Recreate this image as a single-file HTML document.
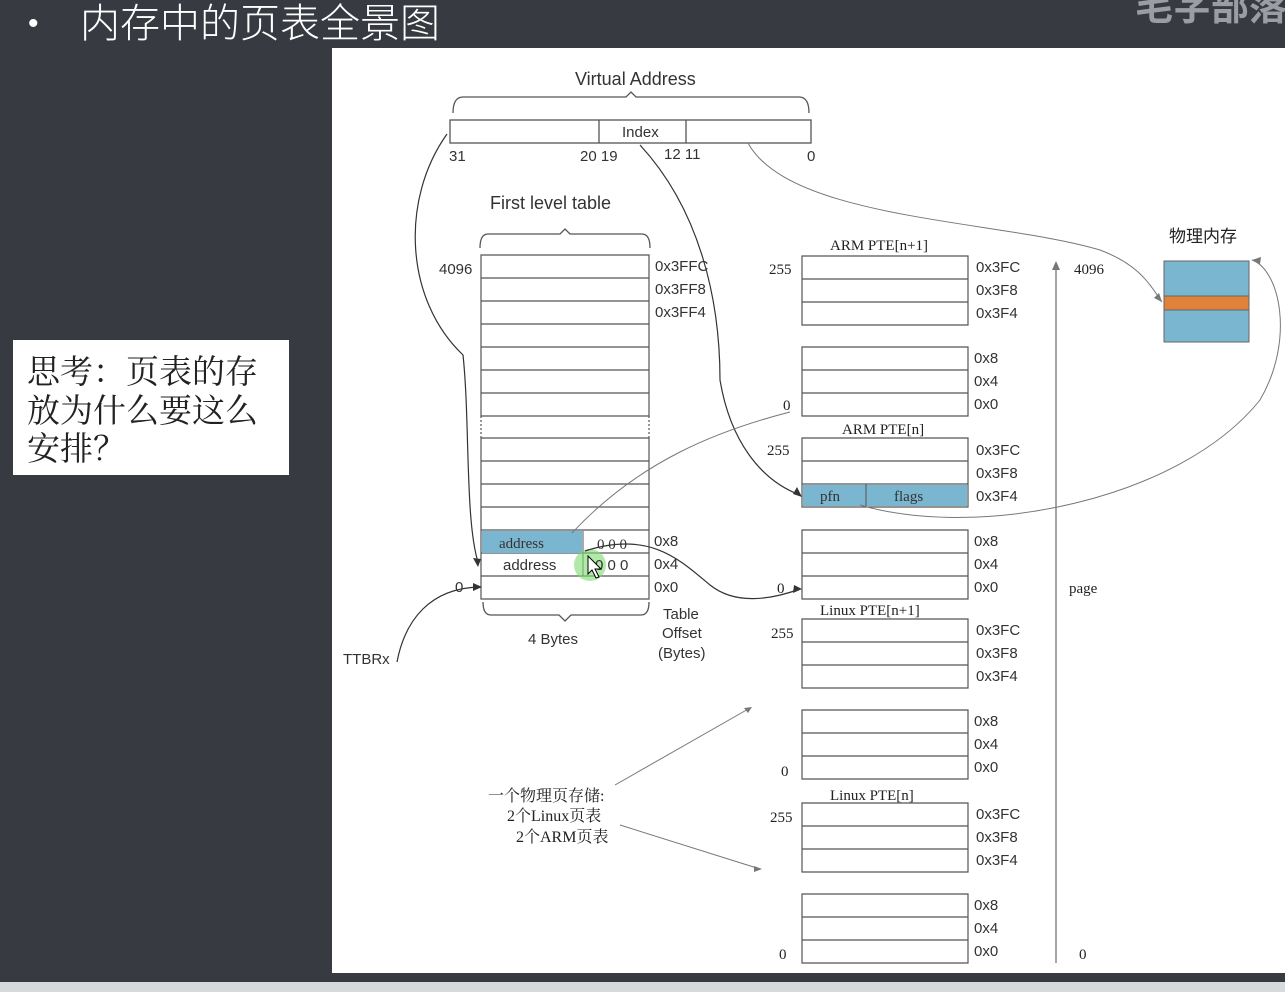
<!DOCTYPE html>
<html><head><meta charset="utf-8"><style>
html,body{margin:0;padding:0;width:1285px;height:992px;overflow:hidden;background:#373a41}
svg{display:block}
</style></head><body>
<svg width="1285" height="992" viewBox="0 0 1285 992" xmlns="http://www.w3.org/2000/svg" font-family="Liberation Sans, Noto Sans CJK SC, sans-serif">
<rect x="0" y="0" width="1285" height="992" fill="#373a41"/>
<rect x="0" y="982" width="1285" height="10" fill="#d8d9dc"/>
<rect x="332" y="48" width="953" height="925" fill="#ffffff"/>
<text x="28" y="33" font-size="30" fill="#fff">•</text>
<text x="80" y="37" font-size="40" fill="#fff" font-family="Noto Sans CJK SC, sans-serif" font-weight="300">内存中的页表全景图</text>
<text x="1135" y="20" font-size="38" font-weight="bold" fill="#9a9da3" font-family="Noto Sans CJK SC, sans-serif">毛字部落</text>
<rect x="13" y="340" width="276" height="135" fill="#fff"/>
<text font-size="33" fill="#222" font-family="Noto Serif CJK SC, serif"><tspan x="27" y="383">思考：页表的存</tspan><tspan x="27" y="422">放为什么要这么</tspan><tspan x="27" y="460">安排？</tspan></text>

<g stroke="#555" fill="none" stroke-width="1.3">
<path d="M453 113 q0 -16 10 -16 h163 l5 -5 l5 5 h163 q10 0 10 16"/>
<rect x="450" y="120" width="361" height="23"/>
<line x1="599" y1="120" x2="599" y2="143"/><line x1="686" y1="120" x2="686" y2="143"/>
<path d="M480 248 q0 -14 8 -14 h72 l5 -5 l5 5 h72 q8 0 8 14"/>
<path d="M483 602 q0 13 8 13 h68 l6 6 l6 -6 h70 q8 0 8 -13"/>
</g>
<g font-size="18" fill="#333">
<text x="575" y="85">Virtual Address</text>
<text x="622" y="137" font-size="15">Index</text>
<text x="449" y="161" font-size="15">31</text><text x="580" y="161" font-size="15">20 19</text>
<text x="664" y="159" font-size="15">12 11</text><text x="807" y="161" font-size="15">0</text>
<text x="490" y="209">First level table</text>
</g>

<g stroke="#555" fill="none" stroke-width="1.2">
<path d="M481 255h168v161h-168zM481 278h168M481 301h168M481 324h168M481 347h168M481 370h168M481 393h168"/>
<path d="M481 416v22M649 416v22" stroke-dasharray="2 2"/>
<path d="M481 438h168v161h-168zM481 461h168M481 484h168M481 507h168M481 530h168M481 553h168M481 576h168"/>
</g>
<rect x="482" y="531" width="100" height="22" fill="#7bb6d0"/>
<line x1="583" y1="531" x2="583" y2="576" stroke="#555"/>
<circle cx="590" cy="565" r="16" fill="#7ddc6e" opacity="0.6"/>
<g font-size="15" fill="#333">
<text x="499" y="548" font-family="Liberation Serif, serif">address</text>
<text x="597" y="549" font-family="Liberation Serif, serif">0 0 0</text>
<text x="503" y="570">address</text><text x="595" y="570">0 0 0</text>
<text x="439" y="274">4096</text>
<text x="655" y="271">0x3FFC</text><text x="655" y="294">0x3FF8</text><text x="655" y="317">0x3FF4</text>
<text x="654" y="546">0x8</text><text x="654" y="569">0x4</text><text x="654" y="592">0x0</text>
<text x="455" y="592">0</text>
<text x="528" y="644">4 Bytes</text>
<text x="663" y="619">Table</text><text x="662" y="638">Offset</text><text x="658" y="658">(Bytes)</text>
<text x="343" y="664">TTBRx</text>
</g>

<g stroke="#555" fill="none" stroke-width="1.2">
<path d="M802 256h166v69h-166zM802 279h166M802 302h166"/>
<path d="M802 347h166v69h-166zM802 370h166M802 393h166"/>
<path d="M802 438h166v69h-166zM802 461h166M802 484h166"/>
<path d="M802 530h166v69h-166zM802 553h166M802 576h166"/>
<path d="M802 619h166v69h-166zM802 642h166M802 665h166"/>
<path d="M802 710h166v69h-166zM802 733h166M802 756h166"/>
<path d="M802 803h166v69h-166zM802 826h166M802 849h166"/>
<path d="M802 894h166v69h-166zM802 917h166M802 940h166"/>
</g>
<rect x="803" y="485" width="164" height="21" fill="#7bb6d0"/>
<line x1="866" y1="484" x2="866" y2="507" stroke="#555"/>
<g font-size="15" fill="#333">
<text x="820" y="501" font-family="Liberation Serif, serif">pfn</text>
<text x="894" y="501" font-family="Liberation Serif, serif">flags</text>
</g>
<g font-size="15" fill="#222" font-family="Liberation Serif, Noto Serif CJK SC, serif">
<text x="830" y="250">ARM PTE[n+1]</text><text x="842" y="434">ARM PTE[n]</text>
<text x="820" y="615">Linux PTE[n+1]</text><text x="830" y="800">Linux PTE[n]</text>
<text x="769" y="274">255</text><text x="783" y="410">0</text>
<text x="767" y="455">255</text><text x="777" y="593">0</text>
<text x="771" y="638">255</text><text x="781" y="776">0</text>
<text x="770" y="822">255</text><text x="779" y="959">0</text>
<text x="1074" y="274">4096</text><text x="1069" y="593">page</text><text x="1079" y="959">0</text>
</g>
<g font-size="15" fill="#333">
<text x="976" y="272">0x3FC</text><text x="976" y="295">0x3F8</text><text x="976" y="318">0x3F4</text>
<text x="974" y="363">0x8</text><text x="974" y="386">0x4</text><text x="974" y="409">0x0</text>
<text x="976" y="455">0x3FC</text><text x="976" y="478">0x3F8</text><text x="976" y="501">0x3F4</text>
<text x="974" y="546">0x8</text><text x="974" y="569">0x4</text><text x="974" y="592">0x0</text>
<text x="976" y="635">0x3FC</text><text x="976" y="658">0x3F8</text><text x="976" y="681">0x3F4</text>
<text x="974" y="726">0x8</text><text x="974" y="749">0x4</text><text x="974" y="772">0x0</text>
<text x="976" y="819">0x3FC</text><text x="976" y="842">0x3F8</text><text x="976" y="865">0x3F4</text>
<text x="974" y="910">0x8</text><text x="974" y="933">0x4</text><text x="974" y="956">0x0</text>
</g>
<line x1="1056" y1="963" x2="1056" y2="264" stroke="#777" stroke-width="1.3"/>
<path d="M1052 270 l4 -9 l4 9z" fill="#777"/>

<text x="1169" y="242" font-size="17" fill="#222" font-family="Noto Sans CJK SC, sans-serif">物理内存</text>
<rect x="1164" y="261" width="85" height="81" fill="#7bb6d0" stroke="#666"/>
<rect x="1164" y="296" width="85" height="14" fill="#e0823a" stroke="#666"/>

<text font-size="16" fill="#222" font-family="Liberation Serif, Noto Serif CJK SC, serif"><tspan x="488" y="801">一个物理页存储:</tspan><tspan x="507" y="821">2个Linux页表</tspan><tspan x="516" y="842">2个ARM页表</tspan></text>

<g fill="none" stroke="#333" stroke-width="1.2">
<path d="M447 134 C400 200 405 300 463 355 C470 420 465 520 478 562"/>
<path d="M640 145 C700 210 720 300 720 380 C730 440 760 480 800 495"/>
<path d="M585 551 C650 530 680 560 710 585 C735 605 770 600 800 589"/>
<path d="M397 662 C405 620 430 588 480 587"/>
</g>
<g fill="none" stroke="#777" stroke-width="1">
<path d="M748 143 C790 220 1000 220 1100 250 C1140 265 1150 285 1162 302"/>
<path d="M572 533 C640 460 720 430 790 412"/>
<path d="M860 505 C980 540 1180 500 1260 400 C1295 340 1280 270 1252 260"/>
<path d="M615 785 L750 708"/><path d="M620 825 L760 869"/>
</g>
<g fill="#333">
<path d="M478 567 l-5 -9 l8 1z"/>
<path d="M802 497 l-9 -3 l4 -7z"/>
<path d="M802 589 l-9 4 l1 -8z"/>
<path d="M482 587 l-9 4 v-8z"/>
<path d="M1162 302 l-8 -4 l5 -5z" fill="#777"/>
<path d="M1252 260 l9 -3 l-1 7z" fill="#777"/>
<path d="M752 707 l-8 1 l4 5z" fill="#777"/>
<path d="M762 869 l-8 -3 l0 6z" fill="#777"/>
</g>
<path d="M588 556 l0 18 l4 -4 l4 8 l3 -1 l-4 -8 l6 0z" fill="#fff" stroke="#000"/>
</svg>
</body></html>
